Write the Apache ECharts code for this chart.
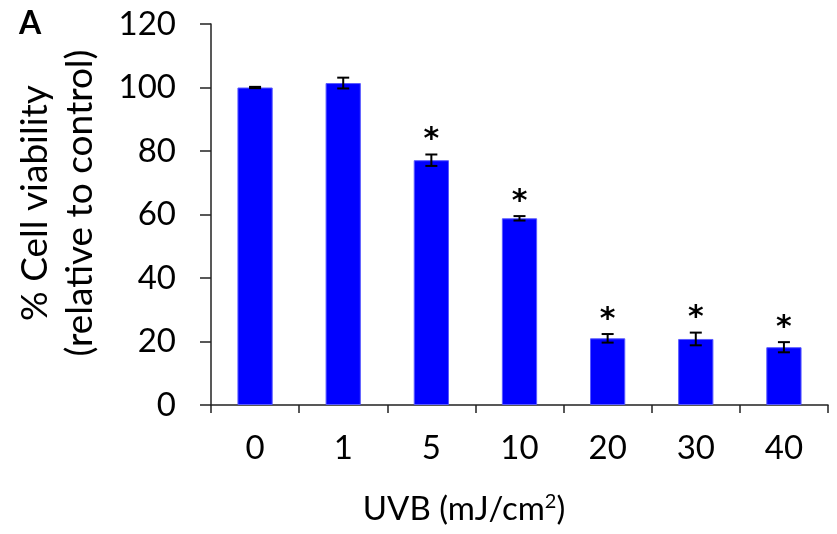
<!DOCTYPE html>
<html>
<head>
<meta charset="utf-8">
<script src="https://cdn.jsdelivr.net/npm/echarts@6/dist/echarts.min.js"></script>
<style>
  html, body { margin: 0; padding: 0; background: #fff; }
  #chart { width: 837px; height: 534px; }
</style>
</head>
<body>
<div id="chart"></div>
<script>
// UVB dose (mJ/cm²) and resulting cell viability
const doses = ['0', '1', '5', '10', '20', '30', '40'];
const viability = [100, 101.4, 77.1, 58.8, 21.0, 20.8, 18.2];
const sem = [0.2, 1.7, 1.8, 0.7, 1.35, 2.0, 1.6];
const significant = [false, false, true, true, true, true, true];
const yTicks = [0, 20, 40, 60, 80, 100, 120];

const FONT = 'Lato';
const chart = echarts.init(document.getElementById('chart'), null, { renderer: 'canvas' });

const errData = doses.map((d, i) => [i, viability[i], sem[i], significant[i] ? 1 : 0]);

chart.setOption({
  animation: false,
  backgroundColor: '#ffffff',
  grid: { left: 211, right: 9, top: 24, bottom: 129, containLabel: false, outerBoundsMode: 'none' },
  graphic: [
    {
      // panel letter
      type: 'text', left: 19, top: 8,
      style: { text: 'A', font: 'bold 32px Lato', fill: '#000' }
    },
    {
      // y-axis title, two lines reading bottom to top
      type: 'text', x: 58, y: 203, rotation: Math.PI / 2,
      style: {
        text: '% Cell viability\n(relative to control)',
        font: '37px Lato', fill: '#000', lineHeight: 45,
        align: 'center', verticalAlign: 'middle'
      }
    },
    {
      // x-axis title with superscript unit
      type: 'text', x: 464, y: 509,
      style: {
        text: '{a|UVB (mJ/cm}{s|2}{a|)}',
        align: 'center', verticalAlign: 'middle',
        rich: {
          a: { font: '33px Lato', fill: '#000' },
          s: { font: '20px Lato', fill: '#000', verticalAlign: 'top', padding: [0, 0, 14, 0] }
        }
      }
    }
  ],
  xAxis: {
    type: 'category',
    data: doses,
    axisLine: { lineStyle: { color: '#222', width: 1.5 } },
    axisTick: { show: true, inside: false, length: 8, alignWithLabel: false, lineStyle: { color: '#222', width: 1.5 } },
    axisLabel: { fontFamily: FONT, fontSize: 33, color: '#000', margin: 27 }
  },
  yAxis: {
    type: 'value',
    min: yTicks[0],
    max: yTicks[yTicks.length - 1],
    interval: yTicks[1] - yTicks[0],
    axisLine: { show: true, lineStyle: { color: '#222', width: 1.5 } },
    axisTick: { show: true, inside: false, length: 11, lineStyle: { color: '#222', width: 1.5 } },
    axisLabel: { fontFamily: FONT, fontSize: 33, color: '#000', margin: 35 },
    splitLine: { show: false }
  },
  series: [
    {
      type: 'bar',
      data: viability,
      barWidth: '40%',
      itemStyle: { color: '#0000ff', borderColor: '#5a5aff', borderWidth: 1 },
      z: 2
    },
    {
      type: 'custom',
      data: errData,
      z: 5,
      renderItem: function (params, api) {
        const x = api.value(0);
        const mean = api.value(1);
        const err = api.value(2);
        const sig = api.value(3);
        const top = api.coord([x, mean + err]);
        const bot = api.coord([x, mean - err]);
        const half = 6;
        const style = { stroke: '#000', lineWidth: 2 };
        const children = [
          { type: 'line', shape: { x1: top[0], y1: top[1], x2: bot[0], y2: bot[1] }, style: style },
          { type: 'line', shape: { x1: top[0] - half, y1: top[1], x2: top[0] + half, y2: top[1] }, style: style },
          { type: 'line', shape: { x1: bot[0] - half, y1: bot[1], x2: bot[0] + half, y2: bot[1] }, style: style }
        ];
        if (sig) {
          children.push({
            type: 'text',
            x: top[0], y: top[1] - 14,
            style: {
              text: '*', fill: '#000',
              font: 'bold 30px DejaVu Sans',
              textAlign: 'center', textVerticalAlign: 'middle'
            }
          });
        }
        return { type: 'group', children: children };
      }
    }
  ]
});
</script>
</body>
</html>
